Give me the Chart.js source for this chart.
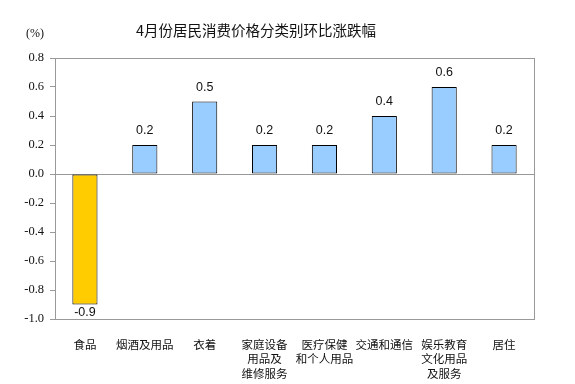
<!DOCTYPE html>
<html>
<head>
<meta charset="utf-8">
<script src="https://cdn.jsdelivr.net/npm/chart.js@4/dist/chart.umd.min.js"></script>
<style>
  html, body { margin: 0; padding: 0; background: #fff; }
  #wrap { width: 575px; height: 384px; }
</style>
</head>
<body>
<div id="wrap"><canvas id="cpi" width="575" height="384"></canvas></div>
<script>
// categories (multi-line labels as in the original)
const categories = [
    ['食品'],
    ['烟酒及用品'],
    ['衣着'],
    ['家庭设备', '用品及', '维修服务'],
    ['医疗保健', '和个人用品'],
    ['交通和通信'],
    ['娱乐教育', '文化用品', '及服务'],
    ['居住']
];
const changes = [-0.9, 0.2, 0.5, 0.2, 0.2, 0.4, 0.6, 0.2];
const titleText = '4月份居民消费价格分类别环比涨跌幅';
const unitText = '(%)';
const yMin = -1.0, yMax = 0.8, yStep = 0.2;

const barColor = v => v < 0 ? '#FFCC00' : '#99CCFF';

// frame, zero line, title and unit label
const decor = {
    id: 'decor',
    beforeDatasetsDraw(chart) {
        const { ctx, chartArea: a, scales } = chart;
        const y0 = Math.round(scales.y.getPixelForValue(0)) + 0.5;
        ctx.save();
        ctx.strokeStyle = '#999';
        ctx.lineWidth = 1;
        ctx.strokeRect(Math.round(a.left) + 0.5, Math.round(a.top) + 0.5,
            Math.round(a.right - a.left), Math.round(a.bottom - a.top));
        ctx.beginPath();
        ctx.moveTo(a.left, y0);
        ctx.lineTo(a.right, y0);
        ctx.stroke();
        ctx.restore();
    },
    afterDraw(chart) {
        const { ctx } = chart;
        ctx.save();
        ctx.fillStyle = '#111';
        ctx.textBaseline = 'middle';
        ctx.textAlign = 'center';
        ctx.font = '14.5px "Noto Sans CJK SC", sans-serif';
        ctx.fillText(titleText, 256, 30);
        ctx.font = '12px "Liberation Serif", serif';
        ctx.fillText(unitText, 35, 34);
        ctx.restore();
    }
};

// value labels above / below bars
const valueLabels = {
    id: 'valueLabels',
    afterDatasetsDraw(chart) {
        const { ctx } = chart;
        const meta = chart.getDatasetMeta(0);
        ctx.save();
        ctx.font = '12.5px "Liberation Sans", Arial, sans-serif';
        ctx.fillStyle = '#111';
        ctx.textAlign = 'center';
        ctx.textBaseline = 'middle';
        meta.data.forEach((el, i) => {
            const v = changes[i];
            const y = v >= 0 ? el.y - 14 : el.y + 8;
            ctx.fillText(v.toFixed(1), el.x, y);
        });
        ctx.restore();
    }
};

new Chart(document.getElementById('cpi'), {
    type: 'bar',
    data: {
        labels: categories,
        datasets: [{
            data: changes,
            backgroundColor: changes.map(barColor),
            borderColor: '#000',
            borderWidth: 1,
            borderSkipped: false,
            categoryPercentage: 1,
            barPercentage: 0.42
        }]
    },
    options: {
        responsive: false,
        animation: false,
        layout: { padding: { top: 58, right: 41, left: 0, bottom: 0 } },
        plugins: {
            legend: { display: false },
            title: { display: false },
            tooltip: { enabled: false }
        },
        scales: {
            x: {
                grid: { display: false },
                border: { display: false },
                ticks: {
                    color: '#111',
                    padding: 10,
                    maxRotation: 0,
                    autoSkip: false,
                    font: { family: '"Noto Sans CJK SC", sans-serif', size: 11.5, lineHeight: 1.26 }
                },
                afterFit(s) { s.height = 65; }
            },
            y: {
                min: yMin,
                max: yMax,
                grid: { display: true, drawOnChartArea: false, drawTicks: true, tickLength: 5, color: '#999' },
                border: { display: false },
                ticks: {
                    stepSize: yStep,
                    color: '#111',
                    padding: 6,
                    font: { family: 'Liberation Serif', size: 12.5 },
                    callback: v => Number(v).toFixed(1)
                },
                afterFit(s) { s.width = 55; }
            }
        }
    },
    plugins: [decor, valueLabels]
});
</script>
</body>
</html>
